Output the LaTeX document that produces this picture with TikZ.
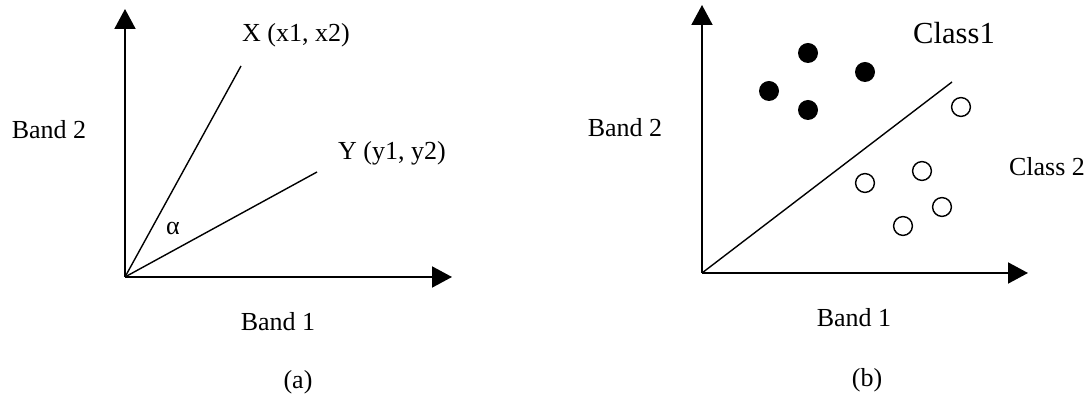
\documentclass[tikz,border=0pt]{standalone}
\usepackage{fontspec}
\setmainfont{Liberation Serif}
\usetikzlibrary{arrows.meta}

\begin{document}
\begin{tikzpicture}[
  x=0.5pt, y=-0.5pt,
  font=\fontsize{13}{15}\selectfont,
  axis/.style={line width=1pt, -{Triangle[length=10pt, width=10.5pt]}},
  ray/.style={line width=0.7pt},
  full/.style={circle, fill=black, minimum size=10pt, inner sep=0pt},
  hollow/.style={circle, draw, line width=0.7pt, minimum size=9.4pt, inner sep=0pt},
]
\useasboundingbox (0,0) rectangle (1089,400);

% (a) two pixel vectors
\coordinate (oa) at (125,277);
\coordinate (xa) at (452,277);
\coordinate (ya) at (125,9);
\coordinate (vx) at (241,66);
\coordinate (vy) at (317,172);

\draw[axis] (oa) -- (xa);
\draw[axis] (oa) -- (ya);
\draw[ray] (oa) -- (vx);
\draw[ray] (oa) -- (vy);

\node (lx) at (296,35) {X (x1, x2)};
\node (ly) at (392,153) {Y (y1, y2)};
\node (alpha) at (173,228) {α};
\node (banda2) at (49,130) {Band 2};
\node (banda1) at (278,322) {Band 1};
\node (capa) at (298,382) {(a)};

% (b) two classes split by a line
\coordinate (ob) at (702,273);
\coordinate (xb) at (1028,273);
\coordinate (yb) at (702,5);
\coordinate (sep) at (952,82);

\draw[axis] (ob) -- (xb);
\draw[axis] (ob) -- (yb);
\draw[ray] (ob) -- (sep);

% Class 1
\node[full] (c1a) at (808,53) {};
\node[full] (c1b) at (865,72) {};
\node[full] (c1c) at (769,91) {};
\node[full] (c1d) at (808,110) {};

% Class 2
\node[hollow] (c2a) at (961,107) {};
\node[hollow] (c2b) at (922,171) {};
\node[hollow] (c2c) at (865,183) {};
\node[hollow] (c2d) at (942,207) {};
\node[hollow] (c2e) at (903,226) {};

\node[font=\fontsize{15.3}{18}\selectfont] (lc1) at (954,33) {Class1};
\node (lc2) at (1047,167) {Class 2};
\node (bandb2) at (625,128) {Band 2};
\node (bandb1) at (854,318) {Band 1};
\node (capb) at (867,380) {(b)};

\end{tikzpicture}
\end{document}
